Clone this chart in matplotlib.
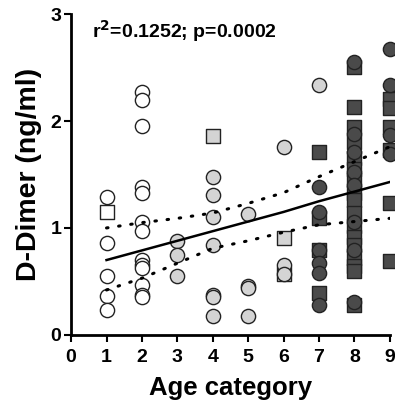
import numpy as np
import matplotlib.pyplot as plt

# 年齢カテゴリ別の D-Dimer 値
white_circle_x = [1, 1, 1, 1, 1, 2, 2, 2, 2, 2, 2, 2, 2, 2, 2, 2, 2, 2]
white_circle_y = [1.29, 0.86, 0.55, 0.36, 0.23,
                  2.27, 2.20, 1.95, 1.38, 1.33, 1.06, 0.97, 0.70, 0.65, 0.63, 0.47, 0.37, 0.35]
white_square_x = [1]
white_square_y = [1.15]

light_circle_x = [3, 3, 3, 4, 4, 4, 4, 4, 4, 4, 5, 5, 5, 5, 6, 6, 6, 7]
light_circle_y = [0.88, 0.75, 0.55,
                  1.48, 1.31, 1.10, 0.84, 0.37, 0.35, 0.18,
                  1.13, 0.46, 0.44, 0.18,
                  1.76, 0.65, 0.57,
                  2.34]
light_square_x = [4, 6, 6]
light_square_y = [1.86, 0.91, 0.57]

dark_square_x = [7, 7, 7, 7,
                 8, 8, 8, 8, 8, 8, 8, 8, 8, 8, 8, 8, 8, 8, 8, 8, 8,
                 9, 9, 9, 9, 9, 9]
dark_square_y = [1.71, 1.09, 0.79, 0.39,
                 2.51, 2.13, 1.94, 1.80, 1.65, 1.55, 1.45, 1.33, 1.26, 1.14, 1.02, 0.92, 0.84, 0.72, 0.64, 0.60, 0.28,
                 2.21, 2.12, 1.94, 1.73, 1.23, 0.69]
dark_circle_x = [7, 7, 7, 7, 7, 7, 8, 8, 8, 8, 8, 8, 8, 8, 9, 9, 9, 9]
dark_circle_y = [1.38, 1.15, 0.79, 0.67, 0.58, 0.28,
                 2.55, 1.88, 1.71, 1.52, 1.40, 1.06, 0.79, 0.31,
                 2.67, 2.34, 1.87, 1.69]

# 回帰直線と95%信頼帯
fit_x = [1, 2, 3, 4, 5, 6, 7, 8, 9]
fit_y = [0.70, 0.79, 0.88, 0.97, 1.06, 1.15, 1.25, 1.34, 1.43]
band_upper = [1.00, 1.05, 1.09, 1.14, 1.23, 1.33, 1.48, 1.62, 1.76]
band_lower = [0.42, 0.53, 0.67, 0.81, 0.88, 0.96, 1.03, 1.06, 1.09]

plt.rcParams['font.family'] = ['Liberation Sans', 'DejaVu Sans']

fig = plt.figure(figsize=(3.95, 4.03), dpi=100)
ax = fig.add_axes([0.18, 0.169, 0.807, 0.796])

ms = 105
ax.scatter(white_circle_x, white_circle_y, s=ms, marker='o', facecolor='white', edgecolor='#222222', linewidth=1, zorder=3, clip_on=False)
ax.scatter(white_square_x, white_square_y, s=ms, marker='s', facecolor='white', edgecolor='#222222', linewidth=1, zorder=3, clip_on=False)
ax.scatter(light_square_x, light_square_y, s=ms, marker='s', facecolor='#d4d4d4', edgecolor='#222222', linewidth=1, zorder=3, clip_on=False)
ax.scatter(light_circle_x, light_circle_y, s=ms, marker='o', facecolor='#d4d4d4', edgecolor='#222222', linewidth=1, zorder=3, clip_on=False)
ax.scatter(dark_square_x, dark_square_y, s=ms, marker='s', facecolor='#4a4a4a', edgecolor='#222222', linewidth=1, zorder=3, clip_on=False)
ax.scatter(dark_circle_x, dark_circle_y, s=ms, marker='o', facecolor='#4a4a4a', edgecolor='#222222', linewidth=1, zorder=3, clip_on=False)

ax.plot(fit_x, fit_y, color='black', linewidth=1.8, zorder=4)
ax.plot(fit_x, band_upper, color='black', linewidth=2.2, linestyle=(0, (0.5, 3.5)), dash_capstyle='round', zorder=4)
ax.plot(fit_x, band_lower, color='black', linewidth=2.2, linestyle=(0, (0.5, 3.5)), dash_capstyle='round', zorder=4)

ax.set_xlim(0, 9)
ax.set_ylim(0, 3)
ax.set_xticks(range(10))
ax.set_yticks([0, 1, 2, 3])
ax.spines['top'].set_visible(False)
ax.spines['right'].set_visible(False)
ax.spines['left'].set_linewidth(2)
ax.spines['bottom'].set_linewidth(2)
ax.tick_params(width=1.5, length=5, labelsize=14, pad=2)
ax.tick_params(axis='x', pad=5)
for lab in ax.get_xticklabels() + ax.get_yticklabels():
    lab.set_fontweight('bold')

ax.set_xlabel('Age category', fontsize=18.5, fontweight='bold', labelpad=7)
ax.set_ylabel('D-Dimer (ng/ml)', fontsize=20.5, fontweight='bold', labelpad=6)

ax.text(0.066, 0.925, r'r$^\mathbf{2}$=0.1252; p=0.0002', transform=ax.transAxes,
        fontsize=14, fontweight='bold', va='baseline', ha='left')

plt.savefig('out.png', dpi=100)
